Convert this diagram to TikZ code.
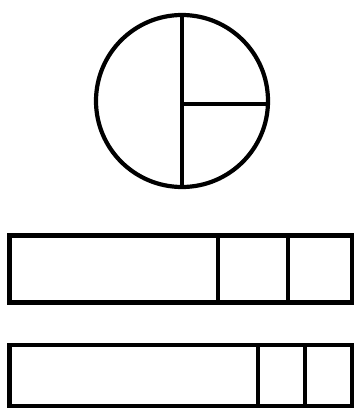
\documentclass[tikz,border=0pt]{standalone}
\usepackage{tikz}
\usetikzlibrary{calc}
\tikzset{
  thick line/.style={line width=4.2pt, draw=black},
  bar/.style={line width=4.6pt, draw=black},
}

\begin{document}
\begin{tikzpicture}[x=1pt, y=-1pt]
\useasboundingbox (0,0) rectangle (355,410);
% pie
\coordinate (c) at (182,101);
\draw[thick line] (c) circle (86);
\draw[thick line] (182,15) -- (182,187);
\draw[thick line] (c) ++(0,3) -- (268,104);
% upper bar
\draw[bar] (9.5,235.5) rectangle (352,302.5);
\draw[bar] (218,235.5) -- (218,302.5);
\draw[bar] (288,235.5) -- (288,302.5);
% lower bar
\draw[bar] (9.5,345) rectangle (352,406);
\draw[bar] (258,345) -- (258,406);
\draw[bar] (305,345) -- (305,406);
\end{tikzpicture}
\end{document}
